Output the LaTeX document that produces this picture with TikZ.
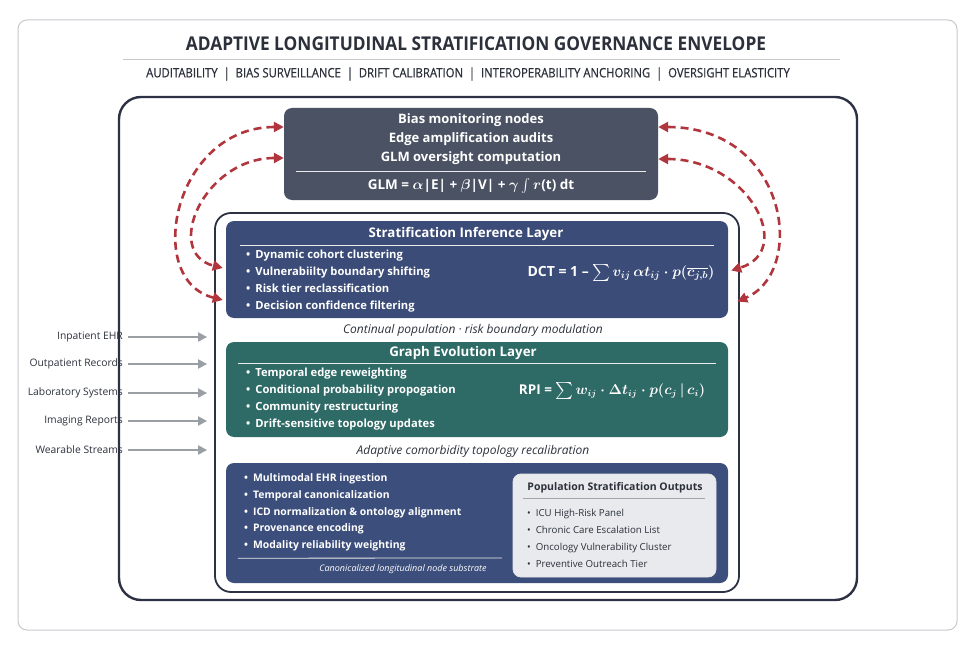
\documentclass[tikz,border=0pt]{standalone}
\usepackage{fontspec}
\setmainfont{Open Sans}
\usetikzlibrary{positioning, calc, arrows.meta}
\definecolor{env_navy}{HTML}{2C3244}
\definecolor{page_gray}{HTML}{C6C8CC}
\definecolor{glm_slate}{HTML}{4A5263}
\definecolor{strat_blue}{HTML}{3B4C78}
\definecolor{graph_teal}{HTML}{2E6A66}
\definecolor{sub_blue}{HTML}{3C4E7B}
\definecolor{out_gray}{HTML}{E9EAED}
\definecolor{loop_red}{HTML}{B0353C}
\definecolor{feed_gray}{HTML}{9A9EA5}
\definecolor{ink}{HTML}{2B303B}
\newcommand{\bul}{•\hspace{5pt}}
\newcommand{\bigsum}{\raisebox{-3pt}{\scalebox{1.7}{$\sum$}}}
\tikzset{
  pageframe/.style={draw=page_gray,line width=1pt,rounded corners=9pt,inner sep=0pt},
  envelope/.style={draw=env_navy,line width=2.4pt,rounded corners=22pt,inner sep=0pt},
  innerframe/.style={draw=env_navy,line width=1.8pt,rounded corners=16pt,inner sep=0pt},
  layer/.style={rounded corners=8pt,inner sep=0pt},
  outbox/.style={layer,fill=out_gray,draw=white!80!gray,line width=0.8pt},
  layertitle/.style={text=white,font=\fontsize{13.3}{15}\selectfont\bfseries},
  bullets/.style={text=white,align=left,anchor=west,inner sep=0pt,font=\fontsize{11.2}{17}\selectfont\bfseries},
  formula/.style={text=white,inner sep=0pt,font=\fontsize{14.5}{17}\selectfont\bfseries\boldmath},
  caption/.style={text=ink,font=\fontsize{12}{14}\selectfont\itshape},
  rulewhite/.style={draw=white!85!gray,line width=0.8pt},
  feedlabel/.style={text=ink,anchor=east,inner sep=0pt,font=\fontsize{10.3}{12}\selectfont},
  feed/.style={draw=feed_gray,line width=2pt,-{Triangle[length=9pt,width=9pt]},shorten >=7pt},
  govarc/.style={draw=loop_red,line width=2.6pt,dash pattern=on 8pt off 5pt,
    {Triangle[length=10pt,width=10pt]}-{Triangle[length=10pt,width=10pt]}},
}

\begin{document}
\begin{tikzpicture}[x=1pt,y=-1pt]
  \useasboundingbox (0,0) rectangle (975,650);
  \node[pageframe,minimum width=939pt,minimum height=610pt] (page) at (487.5,325) {};
  % heading
  \node[text=ink,font=\fontsize{19}{22}\selectfont\bfseries] (title) at (476,44) {\scalebox{0.91}[1]{ADAPTIVE LONGITUDINAL STRATIFICATION GOVERNANCE ENVELOPE}};
  \draw[draw=page_gray,line width=1pt] (123,60) -- (840,60);
  \node[text=ink,font=\fontsize{13}{15}\selectfont\addfontfeatures{FakeBold=0.8}] (aspects) at (468,74) {\scalebox{0.87}[1]{AUDITABILITY \ | \ BIAS SURVEILLANCE \ | \ DRIFT CALIBRATION \ | \ INTEROPERABILITY ANCHORING \ | \ OVERSIGHT ELASTICITY}};
  % frames
  \node[envelope,minimum width=738pt,minimum height=503pt] (env) at (488,348.5) {};
  \node[innerframe,minimum width=524pt,minimum height=379pt] (inner) at (477,402.5) {};
  % oversight box
  \node[layer,fill=glm_slate,minimum width=374pt,minimum height=92pt] (glm) at (471,154) {};
  \node[text=white,align=center,font=\fontsize{13}{19}\selectfont\bfseries] (glmlines) at (471,139) {Bias monitoring nodes\\Edge amplification audits\\GLM oversight computation};
  \draw[rulewhite] ([xshift=12pt,yshift=29pt]glm.south west) -- ([xshift=-12pt,yshift=29pt]glm.south east);
  \node[formula,font=\fontsize{13.5}{16}\selectfont\bfseries\boldmath] (glmeq) at (471,186) {GLM = $\alpha$|E| + $\beta$|V| + $\gamma$ \raisebox{-1pt}{\scalebox{1.35}{$\int$}}\,$r$(t) dt};
  % stratification layer
  \node[layer,fill=strat_blue,minimum width=502pt,minimum height=97pt] (strat) at (477,269.5) {};
  \node[layertitle] (strattitle) at (466,234) {Stratification Inference Layer};
  \draw[rulewhite] ([xshift=14pt,yshift=73pt]strat.south west) -- ([xshift=-14pt,yshift=73pt]strat.south east);
  \node[bullets] (stratitems) at (246,281.5) {\bul Dynamic cohort clustering\\\bul Vulnerabiilty boundary shifting\\\bul Risk tier reclassification\\\bul Decision confidence filtering};
  \node[formula,font=\fontsize{14}{17}\selectfont\bfseries\boldmath] (dct) at (621,273) {DCT = 1 – \bigsum\,$v_{ij}\,\alpha t_{ij}\cdot p(\overline{c_{j,b}})$};
  \node[caption] (stratcap) at (473,330) {Continual population · risk boundary modulation};
  % graph evolution layer
  \node[layer,fill=graph_teal,minimum width=502pt,minimum height=95pt] (graph) at (477,389.5) {};
  \node[layertitle] (graphtitle) at (463,353) {Graph Evolution Layer};
  \draw[rulewhite] ([xshift=12pt,yshift=74pt]graph.south west) -- ([xshift=-12pt,yshift=74pt]graph.south east);
  \node[bullets] (graphitems) at (246,399.5) {\bul Temporal edge reweighting\\\bul Conditional probability propogation\\\bul Community restructuring\\\bul Drift-sensitive topology updates};
  \node[formula,font=\fontsize{13.5}{17}\selectfont\bfseries\boldmath] (rpi) at (612,391) {RPI = \bigsum\,$w_{ij}\cdot\Delta t_{ij}\cdot p(c_j\,|\,c_i)$};
  \node[caption] (graphcap) at (473,451) {Adaptive comorbidity topology recalibration};
  % substrate layer
  \node[layer,fill=sub_blue,minimum width=502pt,minimum height=120pt] (sub) at (477,523) {};
  \node[bullets,font=\fontsize{10.4}{16.7}\selectfont\bfseries] (subitems) at (244,512.5) {\bul Multimodal EHR ingestion\\\bul Temporal canonicalization\\\bul ICD normalization \& ontology alignment\\\bul Provenance encoding\\\bul Modality reliability weighting};
  \draw[rulewhite] ([xshift=12pt,yshift=25pt]sub.south west) -- (502,558);
  \node[text=white,font=\fontsize{9}{11}\selectfont\itshape] (subcap) at (403,569) {Canonicalized longitudinal node substrate};
  \node[outbox,minimum width=203pt,minimum height=103pt] (outputs) at (614.5,525.5) {};
  \node[text=ink,font=\fontsize{10.5}{12}\selectfont\bfseries] (outtitle) at (615,488) {Population Stratification Outputs};
  \draw[draw=gray!70,line width=1pt] ([xshift=10pt,yshift=79pt]outputs.south west) -- ([xshift=-11pt,yshift=79pt]outputs.south east);
  \node[bullets,text=ink,font=\fontsize{9.7}{17}\selectfont] (outitems) at (527,538.5) {\bul ICU High-Risk Panel\\\bul Chronic Care Escalation List\\\bul Oncology Vulnerability Cluster\\\bul Preventive Outreach Tier};
  % governance feedback arcs
  \draw[govarc] ([yshift=27pt]glm.west) .. controls +(-110,0) and +(-80,-20) .. ([xshift=-3pt,yshift=-30.5pt]strat.west);
  \draw[govarc] ([yshift=-4pt]glm.west) .. controls +(-80,0) and +(-60,-15) .. ([xshift=-3pt,yshift=1.5pt]strat.west);
  \draw[govarc] ([yshift=27pt]glm.east) .. controls +(130,0) and +(70,-30) .. ([xshift=9pt,yshift=-32pt]strat.east);
  \draw[govarc] ([yshift=-5pt]glm.east) .. controls +(90,0) and +(65,-20) .. ([xshift=3pt,yshift=-1pt]strat.east);
  % clinical sources
  \node[feedlabel] (inpatient) at (123,337) {Inpatient EHR};
  \node[feedlabel] (outpatient) at (123,364) {Outpatient Records};
  \node[feedlabel] (laboratory) at (123,393) {Laboratory Systems};
  \node[feedlabel] (imaging) at (123,421) {Imaging Reports};
  \node[feedlabel] (wearable) at (123,450) {Wearable Streams};
  \draw[feed] ([xshift=5pt]inpatient.east) -- (inpatient.east -| inner.west);
  \draw[feed] ([xshift=5pt]outpatient.east) -- (outpatient.east -| inner.west);
  \draw[feed] ([xshift=5pt]laboratory.east) -- (laboratory.east -| inner.west);
  \draw[feed] ([xshift=5pt]imaging.east) -- (imaging.east -| inner.west);
  \draw[feed] ([xshift=5pt]wearable.east) -- (wearable.east -| inner.west);
\end{tikzpicture}
\end{document}
